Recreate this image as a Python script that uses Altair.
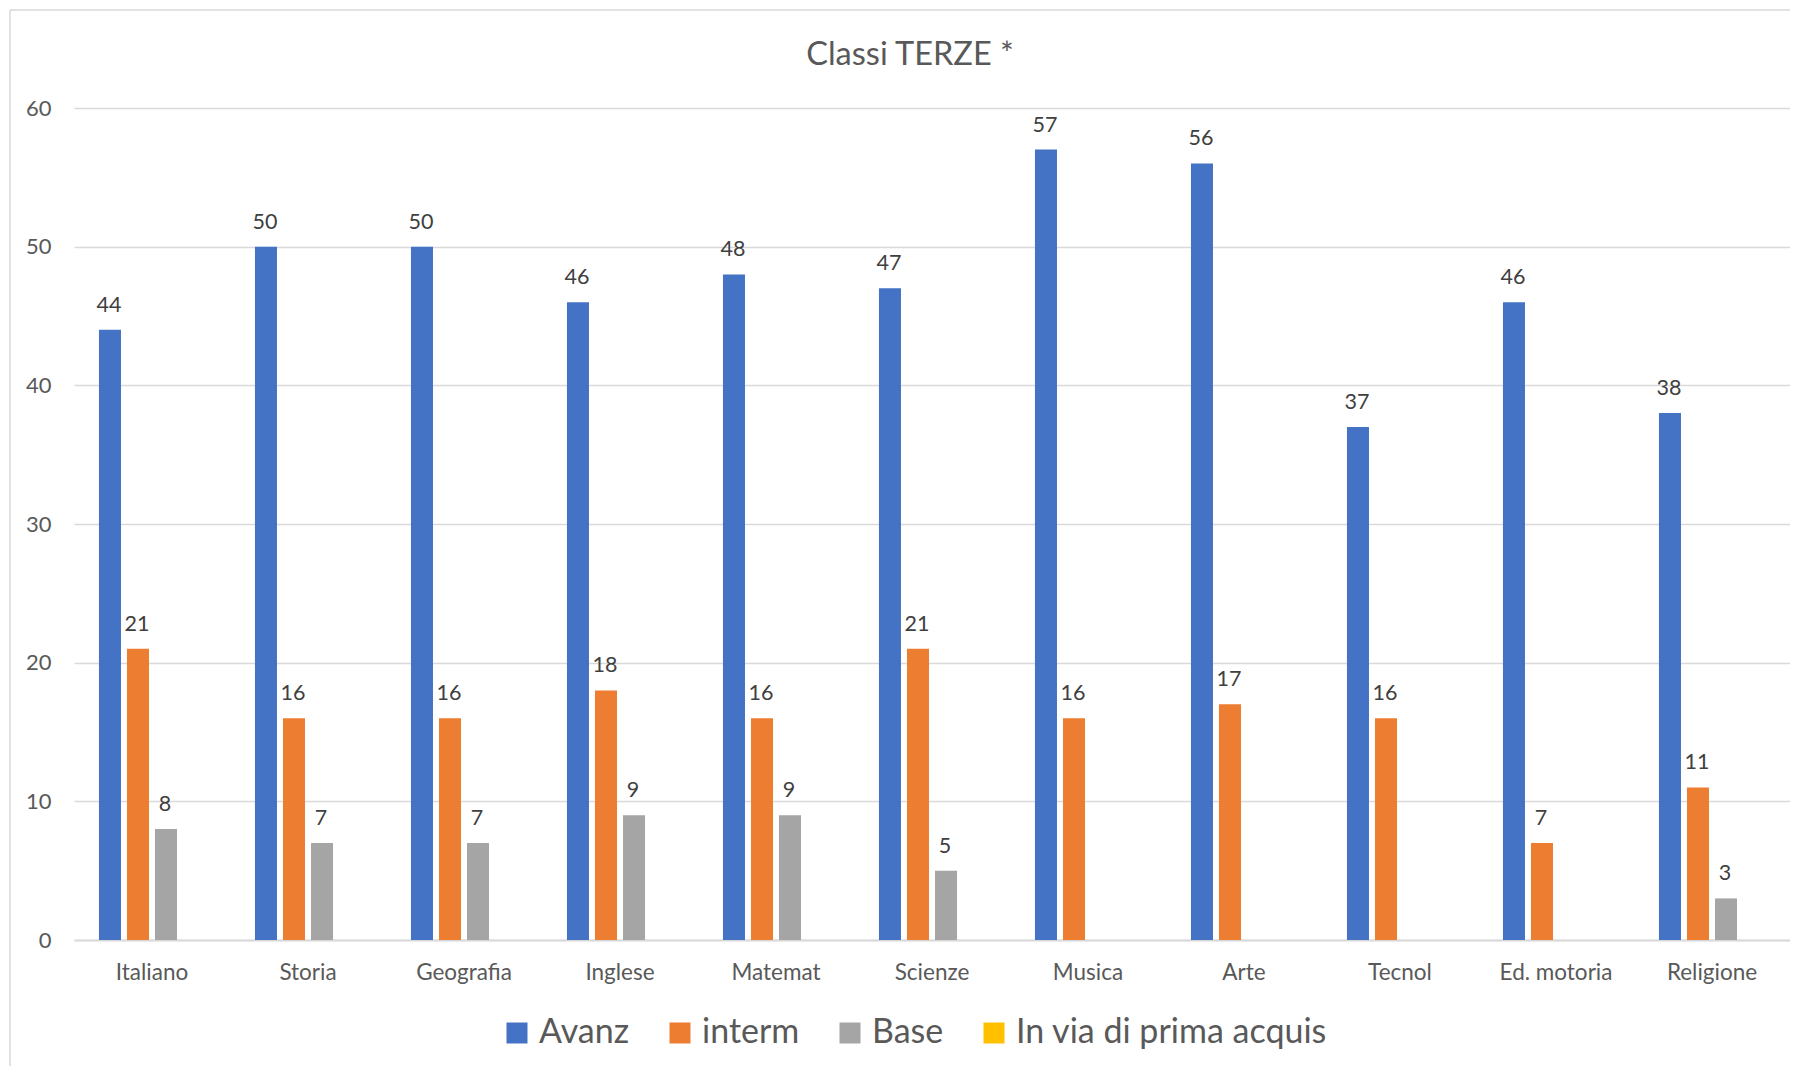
import altair as alt
import pandas as pd

# ---- data ----
categories = ["Italiano", "Storia", "Geografia", "Inglese", "Matemat", "Scienze",
              "Musica", "Arte", "Tecnol", "Ed. motoria", "Religione"]
series = ["Avanz", "interm", "Base", "In via di prima acquis"]
avanz = [44, 50, 50, 46, 48, 47, 57, 56, 37, 46, 38]
interm = [21, 16, 16, 18, 16, 21, 16, 17, 16, 7, 11]
base = [8, 7, 7, 9, 9, 5, None, None, None, None, 3]
in_via = [None] * 11
colors = ["#4472C4", "#ED7D31", "#A5A5A5", "#FFC000"]
y_ticks = [0, 10, 20, 30, 40, 50, 60]
title_text = "Classi TERZE *"

rows = []
for s, vals in zip(series, [avanz, interm, base, in_via]):
    for c, v in zip(categories, vals):
        if v is not None:
            rows.append({"Materia": c, "Livello": s, "Valore": v})
df = pd.DataFrame(rows)

FONT = "Lato"
TXT = "#595959"
GRID = "#d9d9d9"
W, H = 1716, 832

x = alt.X("Materia:N", sort=categories,
          scale=alt.Scale(paddingInner=0.32, paddingOuter=0.16),
          axis=alt.Axis(title=None, labelAngle=0, labelFontSize=22.5, labelColor=TXT,
                        labelFont=FONT, labelPadding=39, labelBaseline="alphabetic",
                        ticks=False, tickSize=0, domain=True, domainColor=GRID,
                        domainWidth=2, grid=False))
xo = alt.XOffset("Livello:N", sort=series,
                 scale=alt.Scale(domain=series, paddingInner=0.214, paddingOuter=0))
y = alt.Y("Valore:Q", scale=alt.Scale(domain=[0, 60], nice=False),
          axis=alt.Axis(title=None, values=y_ticks, labelFontSize=22, labelColor=TXT,
                        labelFont=FONT, labelPadding=23, ticks=False, domain=False,
                        grid=True, gridColor=GRID, gridWidth=1.3))
color = alt.Color("Livello:N", sort=series,
                  scale=alt.Scale(domain=series, range=colors),
                  legend=alt.Legend(title=None, orient="none", legendX=426, legendY=908,
                                    direction="horizontal", symbolType="square",
                                    symbolSize=441, symbolStrokeWidth=0,
                                    labelFontSize=34, labelFont=FONT, labelColor=TXT,
                                    labelOffset=5, columnPadding=33, labelLimit=600,
                                    padding=0))

bars = alt.Chart(df).mark_bar().encode(x=x, xOffset=xo, y=y, color=color)
labels = alt.Chart(df).mark_text(font=FONT, fontSize=21.5, color="#404040",
                                 baseline="alphabetic", dy=-18, dx=-1).encode(
    x=x, xOffset=xo, y=y, text="Valore:Q")

border_df = pd.DataFrame({"k": [0]})
left_border = alt.Chart(border_df).mark_rule(color=GRID, strokeWidth=1.5).encode(
    x=alt.value(-64), y=alt.value(-98), y2=alt.value(958))
top_border = alt.Chart(border_df).mark_rule(color=GRID, strokeWidth=1.5).encode(
    x=alt.value(-64), x2=alt.value(W), y=alt.value(-98))

chart = alt.layer(left_border, top_border, bars, labels).properties(
    width=W, height=H,
    title=alt.TitleParams(title_text, font=FONT, fontSize=32.5, fontWeight="normal",
                          color=TXT, anchor="middle", frame="group", baseline="alphabetic",
                          offset=0, dx=-22, dy=88),
    autosize=alt.AutoSizeParams(type="none"),
    padding={"left": 66, "top": 100, "right": 0, "bottom": 126},
    background="white",
).configure_view(stroke=None)

chart.save("out.html", embed_options={"renderer": "svg", "actions": False})
